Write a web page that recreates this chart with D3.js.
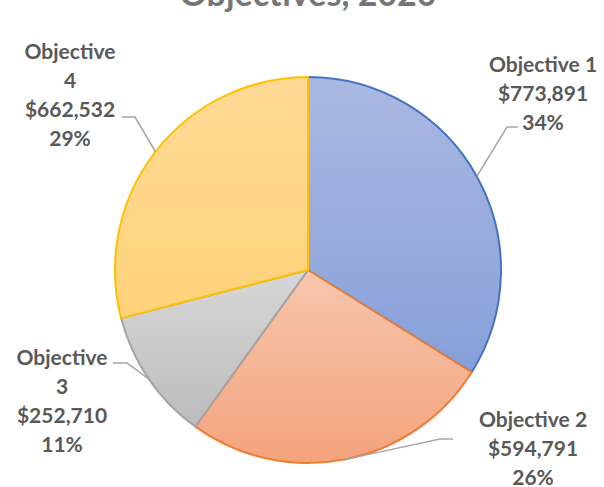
<!DOCTYPE html>
<html>
<head>
<meta charset="utf-8">
<script src="https://cdn.jsdelivr.net/npm/d3@7"></script>
<style>
  body { margin: 0; background: #fff; }
  svg { display: block; }
  text { font-family: Lato, "Open Sans", sans-serif; font-weight: bold; }
</style>
</head>
<body>
<svg></svg>
<script>
const categories = ['Objective 1', 'Objective 2', 'Objective 3', 'Objective 4'];
const values = [773891, 594791, 252710, 662532];
const title = 'Objectives, 2020';

const width = 604;
const height = 487;
const cx = 308, cy = 270, radius = 193;

// series colours: outline, gradient top, gradient bottom
const strokes = ['#4472c4', '#ed7d31', '#a5a5a5', '#ffc000'];
const topFill = ['#aab9e2', '#f7c6ae', '#d7d7d7', '#ffda96'];
const botFill = ['#879fd9', '#f4a37d', '#bcbcbc', '#ffd27a'];

// label layout: text centre x, first baseline y, leader elbow and end
const labelLayout = [
  { x: 543, y: 72, wrap: false, elbow: [507, 127], end: [518, 127] },
  { x: 533, y: 427, wrap: false, elbow: [440, 439], end: [453, 439] },
  { x: 62, y: 365, wrap: true, elbow: [127, 363], end: [113, 363] },
  { x: 70, y: 59, wrap: true, elbow: [135, 117], end: [122, 117] }
];

const svg = d3.select('svg')
  .attr('width', width)
  .attr('height', height);

const defs = svg.append('defs');
categories.forEach((c, i) => {
  const grad = defs.append('linearGradient')
    .attr('id', 'grad' + i)
    .attr('x1', 0).attr('y1', 0).attr('x2', 0).attr('y2', 1);
  grad.append('stop').attr('offset', '0%').attr('stop-color', topFill[i]);
  grad.append('stop').attr('offset', '100%').attr('stop-color', botFill[i]);
});

// title (mostly clipped at top)
svg.append('text')
  .attr('x', cx)
  .attr('y', 6)
  .attr('text-anchor', 'middle')
  .style('font-size', '34px')
  .style('fill', '#767676')
  .text(title);

const total = d3.sum(values);
const pie = d3.pie().sort(null).value(d => d)(values);
const arc = d3.arc().innerRadius(0).outerRadius(radius);
const edgeArc = d3.arc().innerRadius(radius).outerRadius(radius);

const g = svg.append('g')
  .attr('transform', `translate(${cx}, ${cy})`);

g.selectAll('path.slice')
  .data(pie)
  .enter()
  .append('path')
  .attr('class', 'slice')
  .attr('d', arc)
  .attr('fill', (d, i) => `url(#grad${i})`)
  .attr('stroke', (d, i) => strokes[i])
  .attr('stroke-width', 2)
  .attr('stroke-linejoin', 'round');

// leader lines
svg.selectAll('path.leader')
  .data(pie)
  .enter()
  .append('path')
  .attr('class', 'leader')
  .attr('d', (d, i) => {
    const [px, py] = edgeArc.centroid(d);
    const L = labelLayout[i];
    return d3.line()([[px + cx, py + cy], L.elbow, L.end]);
  })
  .attr('fill', 'none')
  .attr('stroke', '#a6a6a6')
  .attr('stroke-width', 1.5);

// labels
const fmtMoney = d3.format('$,');
const fmtPct = d3.format('.0%');

categories.forEach((c, i) => {
  const L = labelLayout[i];
  let lines = L.wrap ? c.split(' ') : [c];
  lines = lines.concat([fmtMoney(values[i]), fmtPct(values[i] / total)]);
  const t = svg.append('text')
    .attr('x', L.x)
    .attr('y', L.y)
    .attr('text-anchor', 'middle')
    .style('font-size', '21px')
    .style('fill', '#595959');
  lines.forEach((s, k) => {
    t.append('tspan')
      .attr('x', L.x)
      .attr('dy', k === 0 ? 0 : 29)
      .text(s);
  });
});
</script>
</body>
</html>
